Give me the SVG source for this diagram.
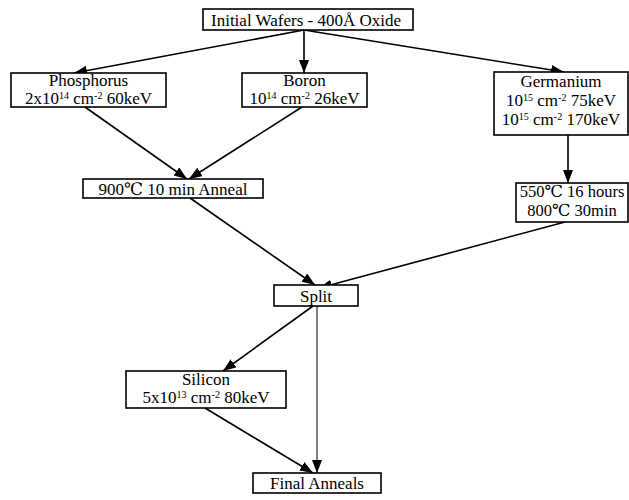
<svg xmlns="http://www.w3.org/2000/svg" width="629" height="500" viewBox="0 0 629 500">
<style>
  .box { fill: #fff; stroke: #000; stroke-width: 1.6; }
  .t { font-family: "Liberation Serif", "DejaVu Serif", serif; font-size: 17px; fill: #000; text-anchor: middle; }
  .sup { font-size: 10px; }
  .edge { stroke: #000; stroke-width: 1.6; fill: none; marker-end: url(#arr); }
  .thin { stroke-width: 1; }
</style>
<defs>
  <marker id="arr" markerUnits="userSpaceOnUse" markerWidth="14" markerHeight="12" refX="13" refY="5" orient="auto">
    <path d="M0,0 L13,5 L0,10 Z" fill="#000"/>
  </marker>
</defs>
<rect width="629" height="500" fill="#fff"/>
<g id="connectors">
  <path class="edge" d="M304,30 L74,73"/>
  <path class="edge" d="M304,30 L304,73"/>
  <path class="edge" d="M304,30 L564,72"/>
  <path class="edge" d="M85,107 L187,179"/>
  <path class="edge" d="M302,107 L189,179"/>
  <path class="edge" d="M190,198 L315,285"/>
  <path class="edge" d="M568,135 L568,183"/>
  <path class="edge" d="M565,222 L319,288"/>
  <path class="edge" d="M313,306 L223,371"/>
  <path class="edge thin" d="M317,306 L317,473"/>
  <path class="edge" d="M205,408 L313,473"/>
</g>
<g id="n-initial">
  <rect class="box" x="203" y="9" width="210" height="21"/>
  <text class="t" x="306" y="25.5">Initial Wafers - 400Å Oxide</text>
</g>
<g id="n-phosphorus">
  <rect class="box" x="11" y="73" width="155" height="34"/>
  <text class="t" x="88.5" y="86">Phosphorus</text>
  <text class="t" x="88.5" y="104">2x10<tspan class="sup" dy="-5">14</tspan><tspan dy="5"> cm</tspan><tspan class="sup" dy="-5">-2</tspan><tspan dy="5"> 60keV</tspan></text>
</g>
<g id="n-boron">
  <rect class="box" x="242" y="73" width="125" height="34"/>
  <text class="t" x="304.5" y="86">Boron</text>
  <text class="t" x="304.5" y="104">10<tspan class="sup" dy="-5">14</tspan><tspan dy="5"> cm</tspan><tspan class="sup" dy="-5">-2</tspan><tspan dy="5"> 26keV</tspan></text>
</g>
<g id="n-germanium">
  <rect class="box" x="494" y="72" width="134" height="63"/>
  <text class="t" x="561" y="87">Germanium</text>
  <text class="t" x="561" y="106">10<tspan class="sup" dy="-5">15</tspan><tspan dy="5"> cm</tspan><tspan class="sup" dy="-5">-2</tspan><tspan dy="5"> 75keV</tspan></text>
  <text class="t" x="561" y="125">10<tspan class="sup" dy="-5">15</tspan><tspan dy="5"> cm</tspan><tspan class="sup" dy="-5">-2</tspan><tspan dy="5"> 170keV</tspan></text>
</g>
<g id="n-anneal">
  <rect class="box" x="83" y="179" width="180" height="19"/>
  <text class="t" x="173" y="194.5">900℃ 10 min Anneal</text>
</g>
<g id="n-550">
  <rect class="box" x="516" y="183" width="112" height="39"/>
  <text class="t" x="572" y="197" style="font-size:16.5px">550℃ 16 hours</text>
  <text class="t" x="572" y="216" style="font-size:16.5px">800℃ 30min</text>
</g>
<g id="n-split">
  <rect class="box" x="274" y="285" width="84" height="21"/>
  <text class="t" x="316" y="301.5">Split</text>
</g>
<g id="n-silicon">
  <rect class="box" x="126" y="371" width="160" height="37"/>
  <text class="t" x="206" y="385">Silicon</text>
  <text class="t" x="206" y="403">5x10<tspan class="sup" dy="-5">13</tspan><tspan dy="5"> cm</tspan><tspan class="sup" dy="-5">-2</tspan><tspan dy="5"> 80keV</tspan></text>
</g>
<g id="n-final">
  <rect class="box" x="253" y="473" width="128" height="20"/>
  <text class="t" x="317" y="488.5">Final Anneals</text>
</g>
</svg>
